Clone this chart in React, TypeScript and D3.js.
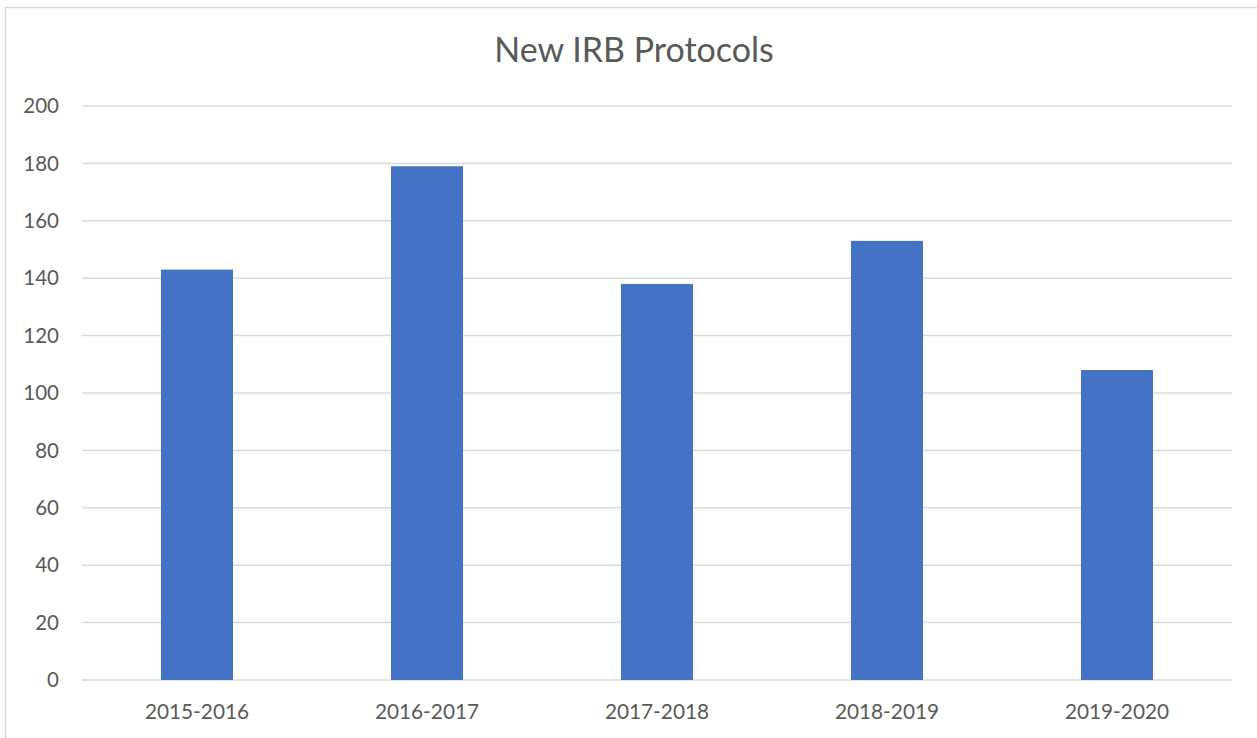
import React from "react";
import * as d3 from "d3";

const categories = ["2015-2016", "2016-2017", "2017-2018", "2018-2019", "2019-2020"];
const values = [143, 179, 138, 153, 108];
const yTicks = [0, 20, 40, 60, 80, 100, 120, 140, 160, 180, 200];
const title = "New IRB Protocols";

const W = 1257;
const H = 738;
const left = 82;
const right = 1232;
const top = 106;
const bottom = 680;
const FONT = "Lato, 'Open Sans', sans-serif";

export default function App() {
  const x = d3.scaleBand<string>().domain(categories).range([left, right]).paddingInner(0.687).paddingOuter(0.3435);
  const y = d3.scaleLinear().domain([0, 200]).range([bottom, top]);
  const bw = 72;
  return (
    <svg width={W} height={H} style={{ position: "absolute", left: 0, top: 0, background: "#fff" }}>
      <rect x={5.5} y={7.5} width={W + 10} height={H + 10} fill="#fff" stroke="#d9d9d9" strokeWidth={1.5} />
      <text x={634} y={62} textAnchor="middle" fontFamily={FONT} fontSize={34} fill="#595959">{title}</text>
      {yTicks.map((t) => (
        <g key={t}>
          <line x1={left} x2={right} y1={y(t)} y2={y(t)} stroke="#d9d9d9" strokeWidth={1.5} />
          <text x={59} y={y(t)} dy="0.35em" textAnchor="end" fontFamily={FONT} fontSize={20.5} fill="#595959">{t}</text>
        </g>
      ))}
      {categories.map((c, i) => {
        const cx = (x(c) as number) + x.bandwidth() / 2;
        return (
          <g key={c}>
            <rect x={cx - bw / 2} y={y(values[i])} width={bw} height={y(0) - y(values[i])} fill="#4472c4" />
            <text x={cx} y={712} dy="0.35em" textAnchor="middle" fontFamily={FONT} fontSize={20.8} fill="#595959">{c}</text>
          </g>
        );
      })}
    </svg>
  );
}
